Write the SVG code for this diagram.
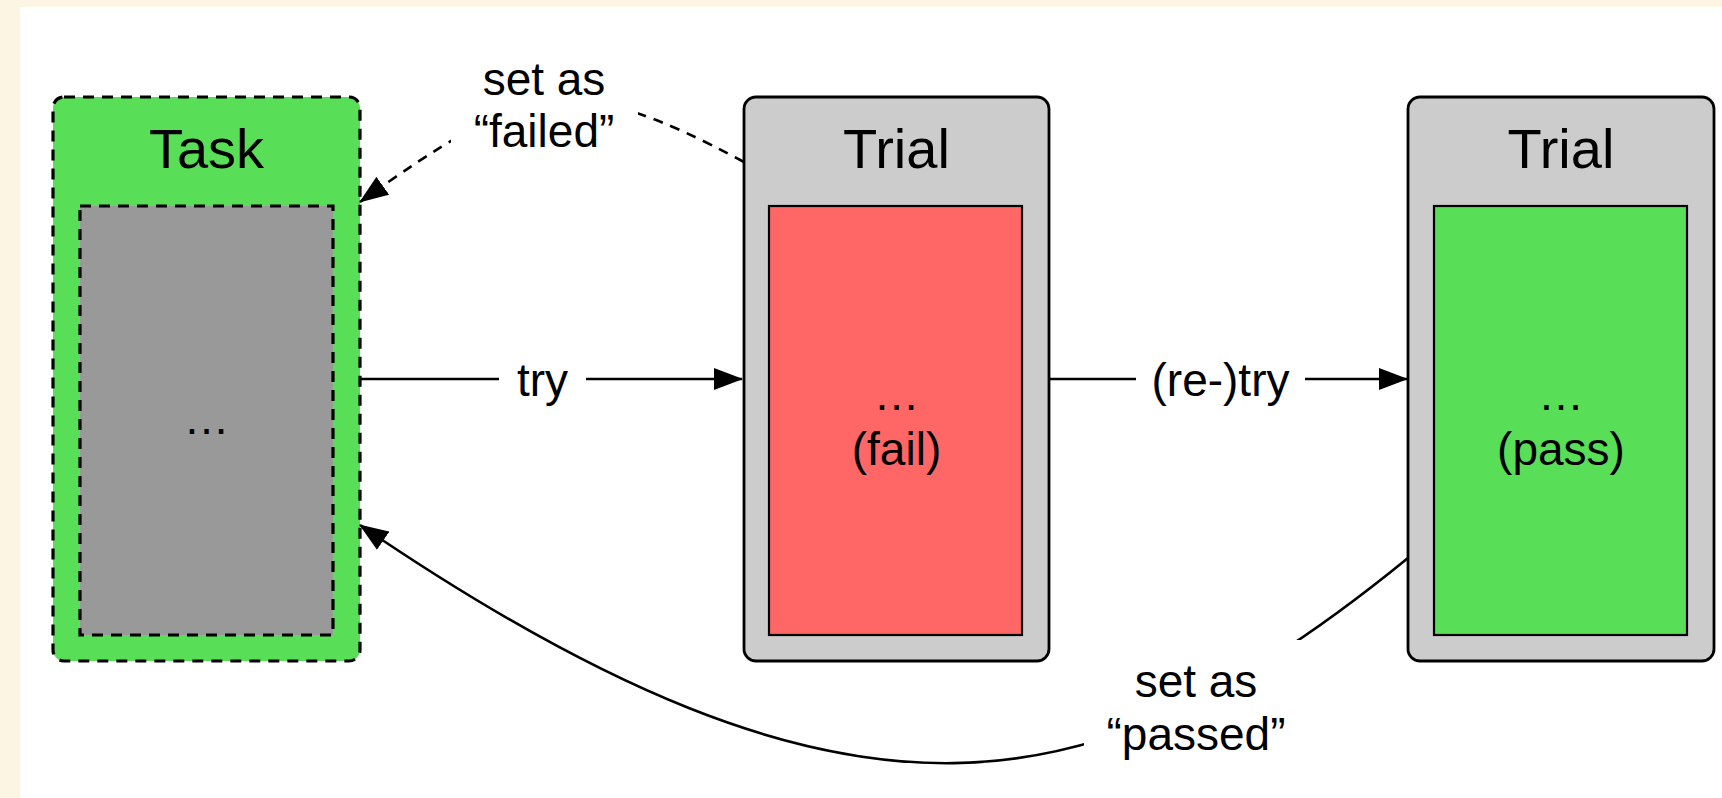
<svg xmlns="http://www.w3.org/2000/svg" width="1722" height="798" viewBox="0 0 1722 798">
  <style>
    text { font-family: "Liberation Sans", Arial, Helvetica, sans-serif; fill: #000; text-anchor: middle; }
    .title { font-size: 56px; }
    .lbl { font-size: 46px; }
    .box { stroke: #000; stroke-width: 2.8; }
    .inner { stroke: #000; stroke-width: 2.2; }
    .dash { stroke-width: 3.2; stroke-dasharray: 11 8; }
    .edge { fill: none; stroke: #000; stroke-width: 2.6; }
    .edge-dash { stroke-dasharray: 10 8; }
    .lblbg { fill: #fff; stroke: none; }
  </style>
  <defs>
    <marker id="arrow" markerUnits="userSpaceOnUse" markerWidth="29" markerHeight="22" refX="28" refY="11" orient="auto">
      <path d="M0,0 L29,11 L0,22 Z" fill="#000"/>
    </marker>
  </defs>

  <!-- page background -->
  <rect x="0" y="0" width="1722" height="798" fill="#fdf5e4"/>
  <rect x="20" y="7" width="1702" height="791" fill="#fff"/>

  <!-- Task -->
  <g id="task">
    <rect class="box dash" x="53" y="97" width="307" height="564" rx="11" fill="#59de57"/>
    <text class="title" x="206.5" y="168">Task</text>
    <rect class="inner dash" x="80" y="206" width="253" height="429" fill="#999999"/>
    <text class="lbl" x="206.5" y="434">…</text>
  </g>

  <!-- first trial (fails) -->
  <g id="trial-fail">
    <rect class="box" x="744" y="97" width="305" height="564" rx="12" fill="#cccccc"/>
    <text class="title" x="896.5" y="168">Trial</text>
    <rect class="inner" x="769" y="206" width="253" height="429" fill="#ff6666"/>
    <text class="lbl" x="896.5" y="410">…</text>
    <text class="lbl" x="896.5" y="465">(fail)</text>
  </g>

  <!-- second trial (passes) -->
  <g id="trial-pass">
    <rect class="box" x="1408" y="97" width="306" height="564" rx="12" fill="#cccccc"/>
    <text class="title" x="1561" y="168">Trial</text>
    <rect class="inner" x="1434" y="206" width="253" height="429" fill="#59de57"/>
    <text class="lbl" x="1561" y="410">…</text>
    <text class="lbl" x="1561" y="465">(pass)</text>
  </g>

  <!-- connectors -->
  <g id="edges">
    <!-- try -->
    <path class="edge" d="M360,379 H742" marker-end="url(#arrow)"/>
    <rect class="lblbg" x="499" y="355" width="87" height="50"/>
    <text class="lbl" x="542.5" y="396">try</text>

    <!-- (re-)try -->
    <path class="edge" d="M1049,379 H1407" marker-end="url(#arrow)"/>
    <rect class="lblbg" x="1136" y="355" width="169" height="50"/>
    <text class="lbl" x="1220.5" y="396">(re-)try</text>

    <!-- set as failed -->
    <path class="edge edge-dash" d="M744,162 C568,67 523,86 360,202" marker-end="url(#arrow)"/>
    <rect class="lblbg" x="451" y="50" width="187" height="112"/>
    <text class="lbl" x="544" y="95">set as</text>
    <text class="lbl" x="544" y="147">“failed”</text>

    <!-- set as passed -->
    <path class="edge" d="M1408,558 C1098,811 856,863 360,525" marker-end="url(#arrow)"/>
    <rect class="lblbg" x="1084" y="640" width="224" height="135"/>
    <text class="lbl" x="1196" y="697">set as</text>
    <text class="lbl" x="1196" y="750">“passed”</text>
  </g>
</svg>
